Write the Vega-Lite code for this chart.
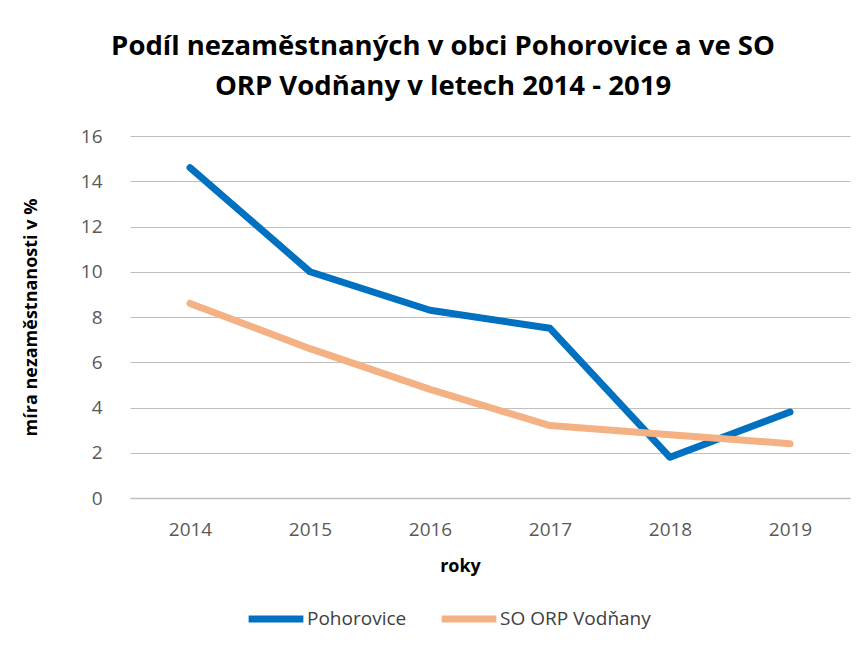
{
  "$schema": "https://vega.github.io/schema/vega-lite/v6.json",
  "width": 720,
  "height": 362,
  "autosize": {"type": "none"},
  "padding": {"left": 130, "top": 136, "right": 14, "bottom": 150},
  "background": "white",
  "title": {
    "text": ["Podíl nezaměstnaných v obci Pohorovice a ve SO", "ORP Vodňany v letech 2014 - 2019"],
    "font": "Open Sans",
    "fontSize": 27.5,
    "fontWeight": "bold",
    "color": "#000000",
    "anchor": "middle",
    "dx": -47,
    "offset": 27,
    "lineHeight": 40
  },
  "data": {
    "values": [
      {"rok": "2014", "serie": "Pohorovice", "hodnota": 14.6},
      {"rok": "2015", "serie": "Pohorovice", "hodnota": 10.0},
      {"rok": "2016", "serie": "Pohorovice", "hodnota": 8.3},
      {"rok": "2017", "serie": "Pohorovice", "hodnota": 7.5},
      {"rok": "2018", "serie": "Pohorovice", "hodnota": 1.8},
      {"rok": "2019", "serie": "Pohorovice", "hodnota": 3.8},
      {"rok": "2014", "serie": "SO ORP Vodňany", "hodnota": 8.6},
      {"rok": "2015", "serie": "SO ORP Vodňany", "hodnota": 6.6},
      {"rok": "2016", "serie": "SO ORP Vodňany", "hodnota": 4.8},
      {"rok": "2017", "serie": "SO ORP Vodňany", "hodnota": 3.2},
      {"rok": "2018", "serie": "SO ORP Vodňany", "hodnota": 2.8},
      {"rok": "2019", "serie": "SO ORP Vodňany", "hodnota": 2.4}
    ]
  },
  "mark": {"type": "line", "strokeWidth": 7, "strokeCap": "round", "strokeJoin": "round"},
  "encoding": {
    "x": {
      "field": "rok",
      "type": "ordinal",
      "scale": {"type": "point", "padding": 0.5},
      "axis": {
        "title": "roky",
        "labelAngle": 0,
        "ticks": false,
        "domain": true,
        "domainColor": "#BFBFBF",
        "domainWidth": 1.5,
        "grid": false,
        "labelFont": "Open Sans",
        "labelFontSize": 19,
        "labelColor": "#595959",
        "labelPadding": 22,
        "titleFont": "Open Sans",
        "titleFontSize": 18,
        "titleFontWeight": "bold",
        "titleColor": "#000000",
        "titlePadding": 18,
        "titleX": 330
      }
    },
    "y": {
      "field": "hodnota",
      "type": "quantitative",
      "scale": {"domain": [0, 16], "nice": false},
      "axis": {
        "title": "míra nezaměstnanosti  v %",
        "values": [0, 2, 4, 6, 8, 10, 12, 14, 16],
        "ticks": false,
        "domain": false,
        "grid": true,
        "gridColor": "#BFBFBF",
        "gridWidth": 1.2,
        "labelFont": "Open Sans",
        "labelFontSize": 19,
        "labelColor": "#595959",
        "labelPadding": 28,
        "titleFont": "Open Sans",
        "titleFontSize": 18,
        "titleFontWeight": "bold",
        "titleColor": "#000000",
        "titlePadding": 40
      }
    },
    "color": {
      "field": "serie",
      "type": "nominal",
      "scale": {"domain": ["Pohorovice", "SO ORP Vodňany"], "range": ["#0070C0", "#F4B183"]},
      "legend": {
        "title": null,
        "orient": "none",
        "direction": "horizontal",
        "legendX": 115,
        "legendY": 452,
        "symbolType": "stroke",
        "symbolStrokeWidth": 7,
        "symbolSize": 3000,
        "labelFont": "Open Sans",
        "labelFontSize": 19,
        "labelColor": "#404040",
        "labelOffset": 0,
        "columnPadding": 20
      }
    }
  },
  "config": {"view": {"stroke": null}}
}
